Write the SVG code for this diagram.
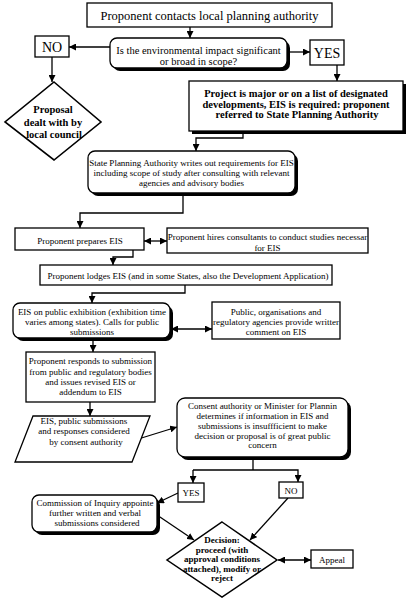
<svg xmlns="http://www.w3.org/2000/svg" width="411" height="600" viewBox="0 0 411 600">
<defs>
<marker id="ah" viewBox="0 0 10 10" refX="10" refY="5" markerWidth="7" markerHeight="7" markerUnits="userSpaceOnUse" orient="auto-start-reverse"><path d="M0,0 L10,5 L0,10 z" fill="#000"/></marker>
</defs>
<style>
text{font-family:"Liberation Serif","Times New Roman",serif;fill:#000;text-anchor:middle}
.box{fill:#fff;stroke:#000;stroke-width:1.3}
.sh{fill:#000}
.c{fill:none;stroke:#000;stroke-width:1.3}
.a{marker-end:url(#ah)}
.d{marker-start:url(#ah);marker-end:url(#ah)}
.t9{font-size:9px}
.t11{font-size:10.5px}
.b{font-weight:bold}
</style>
<rect width="411" height="600" fill="#fff"/>

<g id="connectors">
<line class="c a" x1="190" y1="27" x2="190" y2="38"/>
<line class="c a" x1="110" y1="47" x2="69" y2="47"/>
<line class="c a" x1="287" y1="52" x2="310" y2="52"/>
<line class="c a" x1="52" y1="57" x2="52" y2="82"/>
<line class="c a" x1="337" y1="65" x2="337" y2="81"/>
<polyline class="c a" points="243,131 243,138 196,138 196,151"/>
<polyline class="c a" points="183,194 183,213 80,213 80,228"/>
<line class="c d" x1="144" y1="241" x2="167" y2="241"/>
<polyline class="c a" points="133,250 133,257 113,257 113,265"/>
<polyline class="c a" points="185,285 185,293 92,293 92,303"/>
<line class="c d" x1="171" y1="329" x2="212" y2="329"/>
<line class="c a" x1="93" y1="339" x2="93" y2="352"/>
<line class="c a" x1="90" y1="402" x2="90" y2="416"/>
<line class="c a" x1="135" y1="440" x2="177" y2="427"/>
<polyline class="c" points="253,458 253,470"/>
<polyline class="c a" points="193,470 193,483"/>
<polyline class="c a" points="193,470 298,470 298,482"/>
<line class="c a" x1="178" y1="493" x2="157" y2="503"/>
<line class="c a" x1="157" y1="515" x2="194" y2="540"/>
<line class="c a" x1="288" y1="498" x2="250" y2="540"/>
<line class="c d" x1="278" y1="560" x2="311" y2="560"/>
</g>

<g id="n-start">
<rect class="box" x="87" y="3" width="245" height="24"/>
<text x="209.5" y="20" style="font-size:12.5px">Proponent contacts local planning authority</text>
</g>

<g id="n-question">
<rect class="sh" x="113" y="41" width="177" height="30" rx="7"/>
<rect class="box" x="110" y="38" width="177" height="30" rx="7"/>
<text class="t11" x="198.5" y="53.5">Is the environmental impact significant</text>
<text class="t11" x="198.5" y="65">or broad in scope?</text>
</g>

<g id="n-no1">
<rect class="box" x="35" y="36" width="34" height="21"/>
<text x="52" y="51.5" style="font-size:14px">NO</text>
</g>

<g id="n-yes1">
<rect class="box" x="310" y="40" width="34" height="25"/>
<text x="327" y="58" style="font-size:14px">YES</text>
</g>

<g id="n-local">
<polygon class="box" points="54,82 101,122 54,160 5,122" style="stroke-width:1.6"/>
<text class="b" x="53" y="113" style="font-size:10.5px">Proposal</text>
<text class="b" x="53" y="126" style="font-size:10.5px">dealt with by</text>
<text class="b" x="54" y="138" style="font-size:10.5px">local council</text>
</g>

<g id="n-major">
<rect class="sh" x="192" y="84" width="214" height="50"/>
<rect class="box" x="189" y="81" width="214" height="50"/>
<text class="b" x="296" y="97" style="font-size:10.5px">Project is major or on a list of designated</text>
<text class="b" x="296" y="107.5" style="font-size:10.5px">developments, EIS is required: proponent</text>
<text class="b" x="297" y="118" style="font-size:10.5px">referred to State Planning Authority</text>
</g>

<g id="n-spa">
<rect class="sh" x="91" y="154" width="207" height="42" rx="7"/>
<rect class="box" x="88" y="151" width="207" height="42" rx="7"/>
<text class="t9" x="191.5" y="166">State Planning Authority writes out requirements for EIS</text>
<text class="t9" x="191.5" y="176">including scope of study after consulting with relevant</text>
<text class="t9" x="191.5" y="186">agencies and advisory bodies</text>
</g>

<g id="n-prepares">
<rect class="box" x="15" y="228" width="129" height="22"/>
<text class="t9" x="80" y="244">Proponent prepares EIS</text>
</g>

<g id="n-consultants">
<rect class="box" x="167" y="228" width="201" height="25"/>
<text class="t9" x="267.5" y="240">Proponent hires consultants to conduct studies necessar</text>
<text class="t9" x="267.5" y="251">for EIS</text>
</g>

<g id="n-lodges">
<rect class="box" x="40" y="265" width="292" height="20"/>
<text class="t9" x="188" y="279">Proponent lodges EIS (and in some States, also the Development Application)</text>
</g>

<g id="n-exhibition">
<rect class="sh" x="16" y="306" width="157" height="35" rx="7"/>
<rect class="box" x="13" y="303" width="157" height="35" rx="7"/>
<text class="t9" x="92" y="315">EIS on public exhibition (exhibition time</text>
<text class="t9" x="92" y="325">varies among states).  Calls for public</text>
<text class="t9" x="92" y="334.5">submissions</text>
</g>

<g id="n-public">
<rect class="box" x="212" y="302" width="128" height="37"/>
<text class="t9" x="276" y="315">Public, organisations and</text>
<text class="t9" x="276" y="325">regulatory agencies provide writter</text>
<text class="t9" x="276" y="334.5">comment on EIS</text>
</g>

<g id="n-responds">
<rect class="box" x="26" y="352" width="129" height="50"/>
<text class="t9" x="90.5" y="364">Proponent responds to submission</text>
<text class="t9" x="90.5" y="375">from public and regulatory bodies</text>
<text class="t9" x="90.5" y="385">and issues revised EIS or</text>
<text class="t9" x="90.5" y="395">addendum to EIS</text>
</g>

<g id="n-considered">
<polygon class="box" points="33,416 150,416 132,462 15,462"/>
<text class="t9" x="84" y="424">EIS, public submissions</text>
<text class="t9" x="84" y="434">and responses considered</text>
<text class="t9" x="86" y="445">by consent authority</text>
</g>

<g id="n-consent">
<rect class="sh" x="180" y="401" width="171" height="59" rx="8"/>
<rect class="box" x="177" y="398" width="171" height="59" rx="8"/>
<text class="t9" x="262.5" y="409">Consent authority or Minister for Plannin</text>
<text class="t9" x="262.5" y="419">determines if information in EIS and</text>
<text class="t9" x="262.5" y="429">submissions is insuffficient to make</text>
<text class="t9" x="262.5" y="438.5">decision or proposal is of great public</text>
<text class="t9" x="262.5" y="448">concern</text>
</g>

<g id="n-yes2">
<rect class="box" x="178" y="483" width="26" height="19"/>
<text class="t9" x="191" y="496">YES</text>
</g>

<g id="n-no2">
<rect class="box" x="279" y="482" width="24" height="16"/>
<text class="t9" x="291" y="493.5">NO</text>
</g>

<g id="n-commission">
<rect class="sh" x="35" y="498" width="125" height="37" rx="7"/>
<rect class="box" x="32" y="495" width="125" height="37" rx="7"/>
<text class="t9" x="95" y="506">Commission of Inquiry appointe</text>
<text class="t9" x="95" y="516">further written and verbal</text>
<text class="t9" x="97" y="526">submissions considered</text>
</g>

<g id="n-decision">
<polygon class="box" points="222,522 277,560 222,597 167,560" style="stroke-width:1.5"/>
<text class="t9 b" x="222" y="542.5">Decision:</text>
<text class="t9 b" x="222" y="552.5">proceed (with</text>
<text class="t9 b" x="222" y="562">approval conditions</text>
<text class="t9 b" x="222" y="571.5">attached), modify or</text>
<text class="t9 b" x="222" y="581">reject</text>
</g>

<g id="n-appeal">
<rect class="box" x="311" y="550" width="42" height="18"/>
<text class="t9" x="332" y="562.5">Appeal</text>
</g>
</svg>
